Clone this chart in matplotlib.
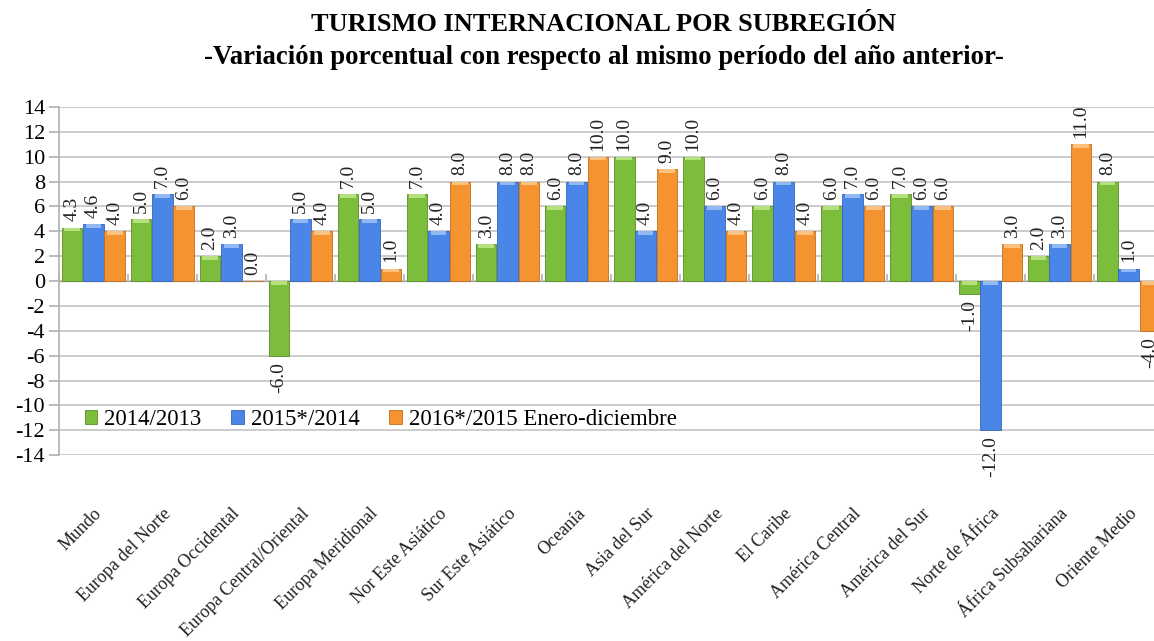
import matplotlib
matplotlib.use("Agg")
import matplotlib.pyplot as plt
import numpy as np

plt.rcParams['font.family'] = ['Liberation Serif', 'DejaVu Serif']
plt.rcParams['axes.unicode_minus'] = False

regiones = ["Mundo", "Europa del Norte", "Europa Occidental", "Europa Central/Oriental",
            "Europa Meridional", "Nor Este Asiático", "Sur Este Asiático", "Oceanía",
            "Asia del Sur", "América del Norte", "El Caribe", "América Central",
            "América del Sur", "Norte de África", "África Subsahariana", "Oriente Medio"]
v2014 = [4.3, 5.0, 2.0, -6.0, 7.0, 7.0, 3.0, 6.0, 10.0, 10.0, 6.0, 6.0, 7.0, -1.0, 2.0, 8.0]
v2015 = [4.6, 7.0, 3.0, 5.0, 5.0, 4.0, 8.0, 8.0, 4.0, 6.0, 8.0, 7.0, 6.0, -12.0, 3.0, 1.0]
v2016 = [4.0, 6.0, 0.0, 4.0, 1.0, 8.0, 8.0, 10.0, 9.0, 4.0, 4.0, 6.0, 6.0, 3.0, 11.0, -4.0]
series = ["2014/2013", "2015*/2014", "2016*/2015 Enero-diciembre"]
colores = ["#7cbd3c", "#4a86e8", "#f59331"]
bordes = ["#5c8e2a", "#3565b8", "#c26f1f"]
brillos = ["#b5e07e", "#93b9f5", "#fbc27f"]

fig = plt.figure(figsize=(11.54, 6.41), dpi=100)
ax = fig.add_axes([0.051, 0.290, 0.957, 0.543])

x = np.arange(len(regiones))
w = 0.30
for k, vals in enumerate([v2014, v2015, v2016]):
    pos = x + (k - 1) * 0.31
    vals = np.array(vals)
    ax.bar(pos, vals, w, color=colores[k], edgecolor=bordes[k], linewidth=0.6,
           label=series[k], zorder=3)
    # light bevel strip along the top edge of each bar
    tope = np.maximum(vals, 0)
    alto = np.where(np.abs(vals) > 0, 0.3, 0)
    ax.bar(pos, alto, w * 0.75, bottom=tope - alto, color=brillos[k], linewidth=0, zorder=3.5)
    for xi, v in zip(pos, vals):
        if v >= 0:
            ax.text(xi, v + 0.5, f"{v:.1f}", rotation=90, ha="center", va="bottom",
                    fontsize=14, color="#222222", zorder=4)
        else:
            ax.text(xi, v - 0.5, f"{v:.1f}", rotation=90, ha="center", va="top",
                    fontsize=14, color="#222222", zorder=4)

ax.set_xlim(-0.5, len(regiones) - 0.5)
ax.set_ylim(-14, 14)
ax.set_yticks(np.arange(-14, 15, 2))
ax.yaxis.grid(True, color="#c4c4c4", linewidth=1.2, zorder=0)
ax.tick_params(axis="y", labelsize=16, length=7, color="#b0b0b0", width=1.2, pad=3)
for s in ["top", "right", "bottom"]:
    ax.spines[s].set_visible(False)
ax.spines["left"].set_color("#b0b0b0")
ax.spines["left"].set_linewidth(1.2)

ax.set_xticks(x)
ax.set_xticklabels(regiones, rotation=45, ha="right", rotation_mode="anchor",
                   fontsize=13, color="#222222")
ax.tick_params(axis="x", length=0, pad=36)

# zero line with category separators
eje0 = ax.secondary_xaxis(0.5)
eje0.set_xticks(np.arange(len(regiones) + 1) - 0.5)
eje0.set_xticklabels([])
eje0.tick_params(length=5, color="#b0b0b0", width=1.2)
eje0.spines["bottom"].set_color("#b0b0b0")
eje0.spines["bottom"].set_linewidth(1.2)

ax.legend(loc="lower left", bbox_to_anchor=(0.015, 0.045), ncol=3, frameon=False,
          fontsize=16.5, handlelength=0.55, handleheight=0.55, handletextpad=0.3,
          columnspacing=1.3, borderaxespad=0)

fig.text(0.523, 0.962, "TURISMO INTERNACIONAL POR SUBREGIÓN", ha="center", va="center",
         fontsize=19, fontweight="bold")
fig.text(0.523, 0.91, "-Variación porcentual con respecto al mismo período del año anterior-",
         ha="center", va="center", fontsize=19.3, fontweight="bold")

fig.savefig("out.png", dpi=100)
